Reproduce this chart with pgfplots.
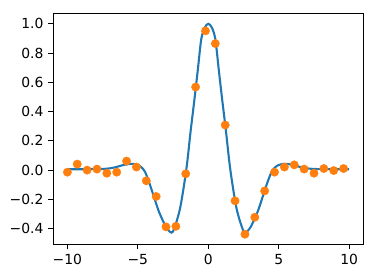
\documentclass[border=0pt]{standalone}
\usepackage{fontspec}
\setmainfont{DejaVu Sans}
\usepackage{pgfplots}
\pgfplotsset{compat=1.18}
\definecolor{mplblue}{HTML}{1F77B4}
\definecolor{mplorange}{HTML}{FF7F0E}
\begin{document}
\fontsize{13.9}{16}\selectfont
\begin{tikzpicture}
\begin{axis}[
  scale only axis,
  width=310pt, height=231pt,
  xmin=-11, xmax=11,
  ymin=-0.507, ymax=1.072,
  axis line style={line width=1.1pt},
  tick style={line width=1.1pt, black},
  tick align=outside,
  major tick length=4.86pt,
  xtick={-10,-5,0,5,10},
  xticklabels={−10,−5,0,5,10},
  ytick={-0.4,-0.2,0,0.2,0.4,0.6,0.8,1.0},
  yticklabels={−0.4,−0.2,0.0,0.2,0.4,0.6,0.8,1.0},
  xtick pos=bottom, ytick pos=left,
  xticklabel style={inner sep=0pt, anchor=north, yshift=-4.86pt},
  yticklabel style={inner sep=0pt, anchor=east, xshift=-4.86pt},
  clip=true,
]
\addplot[mplblue, line width=2.08pt, smooth, tension=0.5] coordinates {
(-10,0.006) (-9,0.006) (-8,0.007) (-7.5,0.008) (-7,0.012) (-6.5,0.022) (-6,0.036)
(-5.75,0.040) (-5.5,0.043) (-5.25,0.042) (-5,0.035) (-4.75,0.02) (-4.5,-0.01)
(-4.25,-0.07) (-4,-0.14) (-3.75,-0.215) (-3.5,-0.285) (-3.25,-0.34) (-3,-0.39)
(-2.75,-0.42) (-2.6,-0.427) (-2.5,-0.418) (-2.25,-0.35) (-2,-0.26) (-1.75,-0.12)
(-1.5,0.05) (-1.25,0.27) (-1,0.47) (-0.75,0.68) (-0.5,0.895) (-0.25,0.975) (0,1.0)
(0.25,0.975) (0.5,0.895) (0.75,0.68) (1,0.47) (1.25,0.27) (1.5,0.05) (1.75,-0.12)
(2,-0.26) (2.25,-0.35) (2.5,-0.418) (2.6,-0.427) (2.75,-0.42) (3,-0.39) (3.25,-0.34)
(3.5,-0.285) (3.75,-0.215) (4,-0.14) (4.25,-0.07) (4.5,-0.01) (4.75,0.02) (5,0.035)
(5.25,0.042) (5.5,0.043) (5.75,0.040) (6,0.036) (6.5,0.022) (7,0.012) (7.5,0.008)
(8,0.007) (9,0.006) (10,0.006)
};
\addplot[only marks, mark=*, mark size=4.17pt, mplorange, mark options={draw=none, fill=mplorange}] coordinates {
(-10,-0.014) (-9.3,0.041) (-8.6,0.000) (-7.9,0.007) (-7.2,-0.021) (-6.5,-0.014)
(-5.8,0.062) (-5.1,0.021) (-4.4,-0.073) (-3.7,-0.18) (-3.0,-0.388) (-2.3,-0.384)
(-1.6,-0.025) (-0.9,0.568) (-0.2,0.952) (0.5,0.865) (1.2,0.308) (1.9,-0.21)
(2.6,-0.438) (3.3,-0.322) (4.0,-0.142) (4.7,-0.014) (5.4,0.021) (6.1,0.036)
(6.8,0.007) (7.5,-0.021) (8.2,0.011) (8.9,-0.003) (9.6,0.011)
};
\end{axis}
\pgfresetboundingbox
\path (current axis.south west) ++(-53.3pt,-33.7pt) rectangle ++(376pt,278pt);
\end{tikzpicture}
\end{document}
